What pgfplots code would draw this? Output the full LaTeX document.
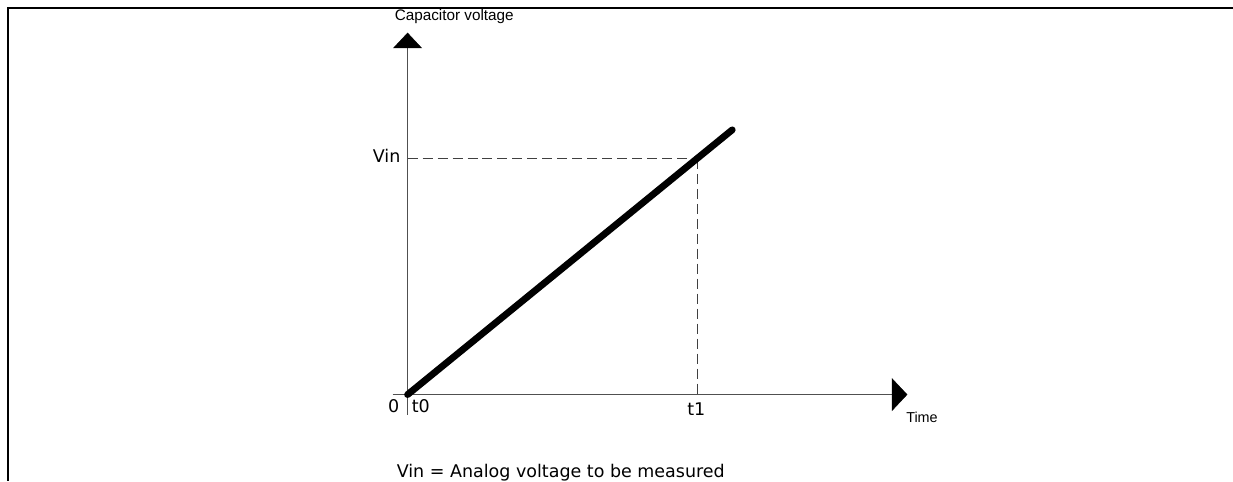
\documentclass[border=0pt]{standalone}
\usepackage{pgfplots}
\pgfplotsset{compat=1.18}
\usepackage{fontspec}
\setmainfont{DejaVu Sans}
\newfontfamily\lab{Liberation Sans}
\newfontfamily\pix{DejaVu Sans}
\definecolor{axgray}{HTML}{505050}
\definecolor{dashgray}{HTML}{404040}
\begin{document}
\begin{tikzpicture}
\begin{axis}[
  scale only axis,
  width=1233pt, height=480pt,
  xmin=0, xmax=1233, ymin=0, ymax=480,
  axis lines=none,
  clip=false,
]
% frame
\addplot[black, line width=2.6pt, line cap=rect] coordinates {(8,0) (8,472) (1233,472)};
% axes
\addplot[axgray, line width=1.4pt] coordinates {(408,65) (408,433)};
\addplot[axgray, line width=1.4pt] coordinates {(393,85) (894,85)};
% arrow heads
\addplot[black, fill=black] coordinates {(394,432) (422,432) (408,447)} --cycle;
\addplot[black, fill=black] coordinates {(893,101) (893,69) (908,85)} --cycle;
% dashed guides
\addplot[dashgray, line width=1.2pt, dash pattern=on 10pt off 5pt] coordinates {(408,321) (698,321)};
\addplot[dashgray, line width=1.2pt, dash pattern=on 10pt off 5pt] coordinates {(698,321) (698,85)};
% capacitor voltage ramp
\addplot[black, line width=6.8pt, line cap=round] coordinates {(408,85) (733,350)};
% labels
\node[anchor=base west, inner sep=0pt, font=\lab\fontsize{15.3}{17}\selectfont] at (axis cs:395,459) {Capacitor voltage};
\node[anchor=base west, inner sep=0pt, font=\lab\fontsize{14.4}{16}\selectfont] at (axis cs:907,57) {Time};
\node[anchor=base east, inner sep=0pt, font=\pix\fontsize{17.5}{19}\selectfont] at (axis cs:401,317) {Vin};
\node[anchor=base, inner sep=0pt, font=\pix\fontsize{17.5}{19}\selectfont] at (axis cs:394,67) {0};
\node[anchor=base west, inner sep=0pt, font=\pix\fontsize{17.5}{19}\selectfont] at (axis cs:412,67) {t0};
\node[anchor=base, inner sep=0pt, font=\pix\fontsize{17.5}{19}\selectfont] at (axis cs:697,64) {t1};
\node[anchor=base west, inner sep=0pt, font=\pix\fontsize{17.5}{19}\selectfont] at (axis cs:397,2) {Vin = Analog voltage to be measured};
\path (axis cs:0,0) rectangle (axis cs:1233,480);
\end{axis}
\end{tikzpicture}
\end{document}
